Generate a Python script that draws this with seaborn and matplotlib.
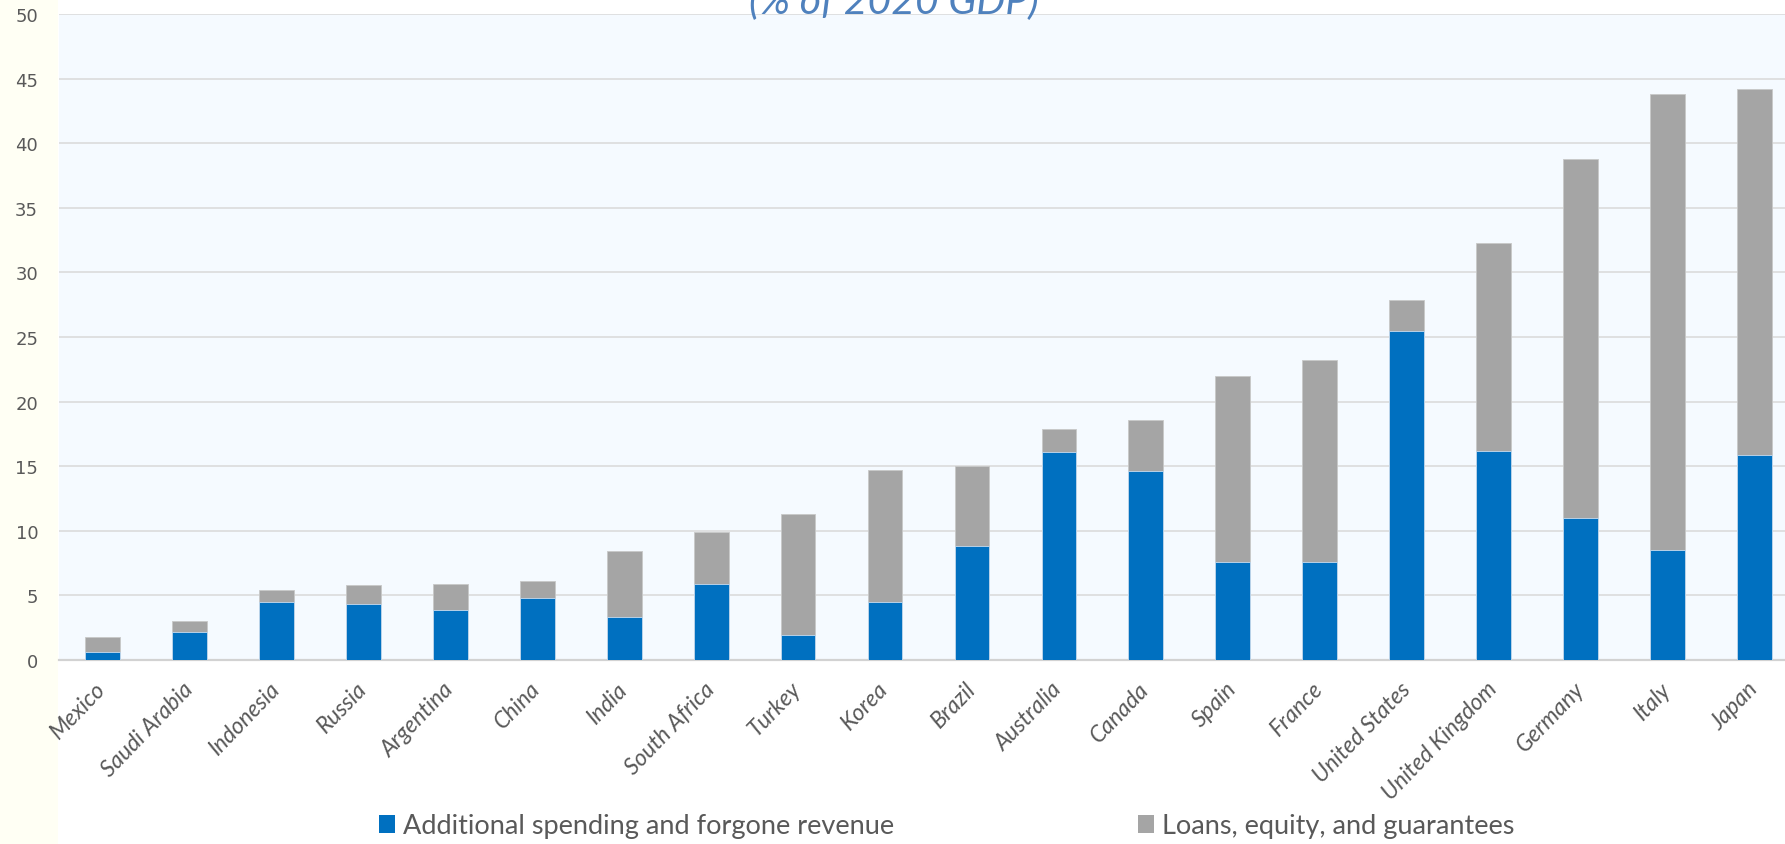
import matplotlib
matplotlib.use("Agg")
import matplotlib.pyplot as plt
import seaborn as sns
import pandas as pd
from matplotlib.patches import Rectangle, Patch

# Fiscal support measures in response to COVID-19, % of 2020 GDP
countries = ["Mexico", "Saudi Arabia", "Indonesia", "Russia", "Argentina", "China",
             "India", "South Africa", "Turkey", "Korea", "Brazil", "Australia",
             "Canada", "Spain", "France", "United States", "United Kingdom",
             "Germany", "Italy", "Japan"]
spending = [0.6, 2.2, 4.5, 4.3, 3.9, 4.8, 3.3, 5.9, 1.9, 4.5, 8.8, 16.1,
            14.6, 7.6, 7.6, 25.5, 16.2, 11.0, 8.5, 15.9]
loans = [1.2, 0.8, 0.9, 1.5, 2.0, 1.3, 5.1, 4.0, 9.4, 10.2, 6.2, 1.8,
         4.0, 14.4, 15.6, 2.4, 16.1, 27.8, 35.3, 28.3]
yticks = list(range(0, 51, 5))

series_names = ["Additional spending and forgone revenue", "Loans, equity, and guarantees"]
BLUE = "#0070C0"
GREY = "#A5A5A5"
TEXT = "#595959"

df = pd.DataFrame({"country": countries, "spending": spending, "loans": loans})
df["total"] = df["spending"] + df["loans"]

sns.set_theme(style="white")
plt.rcParams["font.family"] = ["Lato", "DejaVu Sans"]

W, H = 1785, 845
fig = plt.figure(figsize=(W / 100, H / 100), dpi=100, facecolor="white")
fig.patches.append(Rectangle((0, 0), 58 / W, 1, transform=fig.transFigure,
                             facecolor="#FFFFF4", edgecolor="none", zorder=-5))

# plot area runs slightly past the right edge of the canvas
ax_left, ax_right = 59, 1798
ax = fig.add_axes([ax_left / W, (H - 661) / H, (ax_right - ax_left) / W, (661 - 15) / H])
ax.set_facecolor("#F5FAFF")

# stacked bars: full total in grey, spending part in blue on top of it
sns.barplot(data=df, x="country", y="total", color=GREY, saturation=1, width=0.4,
            edgecolor="#C8C8C8", linewidth=0.6, ax=ax, zorder=2)
sns.barplot(data=df, x="country", y="spending", color=BLUE, saturation=1, width=0.4,
            edgecolor="#C8DCF0", linewidth=0.6, ax=ax, zorder=3)

ax.set_xlim(-0.5, len(countries) - 0.5)
ax.set_ylim(0, 50)
ax.set_yticks(yticks)
ax.set_yticklabels([str(v) for v in yticks], family="DejaVu Sans", fontsize=13, color=TEXT)
ax.yaxis.grid(True, color="#D9D9D9", linewidth=1.1)
ax.xaxis.grid(False)
ax.set_axisbelow(True)
ax.set_xlabel("")
ax.set_ylabel("")
for side in ["top", "right", "left"]:
    ax.spines[side].set_visible(False)
ax.spines["bottom"].set_color("#D2D2D2")
ax.spines["bottom"].set_linewidth(1.6)
ax.tick_params(axis="y", length=0, pad=15)
ax.tick_params(axis="x", length=0, pad=18)
ax.set_xticks(range(len(countries)))
ax.set_xticklabels(countries, rotation=46, ha="right", va="center",
                   rotation_mode="anchor", fontsize=16.5, style="italic", color=TEXT)

# subtitle, partly above the canvas
fig.text(894 / W, (H - 14) / H, "(% of 2020 GDP)", ha="center", va="baseline",
         fontsize=29.5, style="italic", color="#4F81BD")

# legend entries placed separately along the bottom
leg_y = 18 / H
for name, col, x0 in [(series_names[0], BLUE, 379), (series_names[1], GREY, 1138)]:
    fig.legend(handles=[Patch(facecolor=col, edgecolor="none", label=name)],
               loc="center left", bbox_to_anchor=(x0 / W, leg_y), frameon=False,
               borderpad=0, borderaxespad=0, handlelength=0.6, handleheight=0.6,
               handletextpad=0.3, fontsize=19.5, labelcolor=TEXT)

fig.savefig("out.png", dpi=100, facecolor=fig.get_facecolor())
